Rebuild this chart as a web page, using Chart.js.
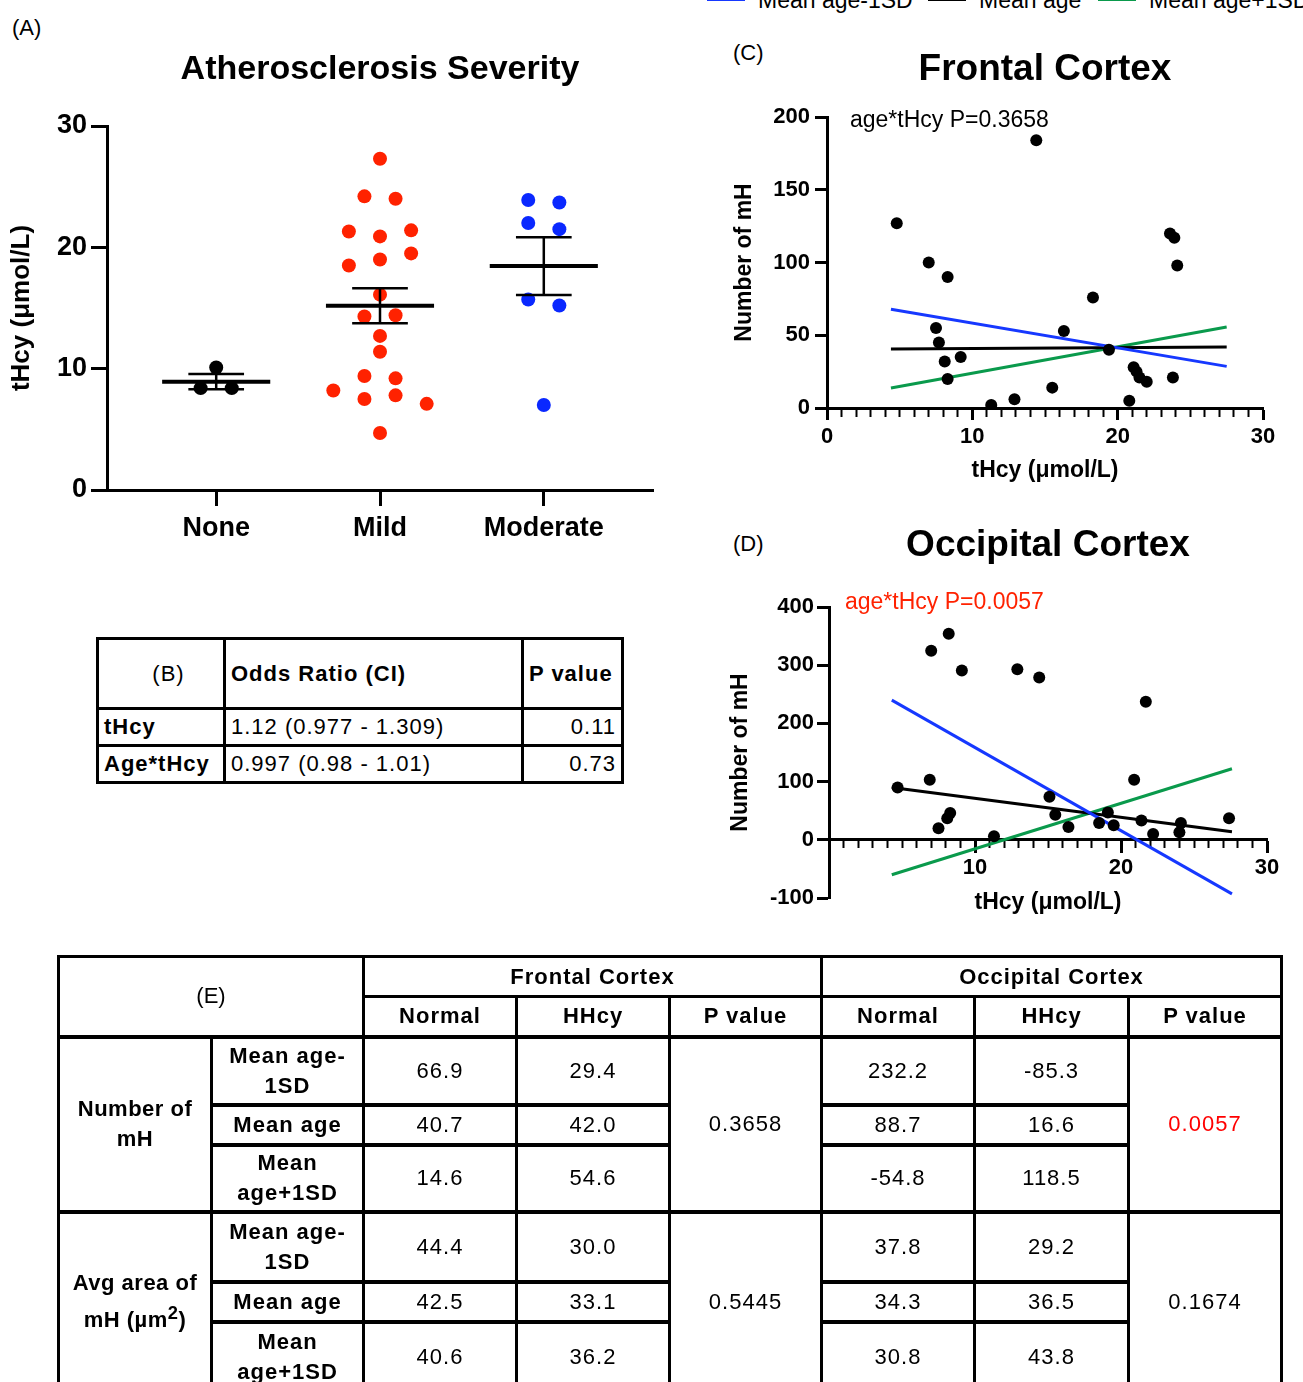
<!DOCTYPE html>
<html>
<head>
<meta charset="utf-8">
<script src="https://cdn.jsdelivr.net/npm/chart.js@4.4.1/dist/chart.umd.min.js"></script>
<style>
  body { margin: 0; background: #fff; font-family: "Liberation Sans", Arial, sans-serif; color: #000; }
  #page { position: relative; width: 1303px; height: 1382px; overflow: hidden; }
  canvas { position: absolute; }
  .tag { position: absolute; font-size: 22px; line-height: 25px; }
  .legend { position: absolute; top: -13px; font-size: 23px; line-height: 26px; white-space: nowrap; }
  .swatch { position: absolute; top: -3px; width: 38px; height: 4px; }
  table { position: absolute; border-collapse: collapse; table-layout: fixed; font-size: 22px; letter-spacing: 1px; }
  td { border: 3px solid #000; padding: 0; vertical-align: middle; line-height: 30px; }
  #tblB td { padding: 0 5px; }
  #tblE td { text-align: center; }
  .b { font-weight: bold; }
  .thick td { border-top-width: 4px; }
</style>
</head>
<body>
<div id="page">
  <div class="tag" style="left:12px; top:15px;">(A)</div>
  <div class="tag" style="left:733px; top:40px;">(C)</div>
  <div class="tag" style="left:733px; top:531px;">(D)</div>
  <div id="legend"></div>
  <canvas id="chartA" width="670" height="560" style="left:0; top:0;"></canvas>
  <canvas id="chartC" width="603" height="470" style="left:700px; top:30px;"></canvas>
  <canvas id="chartD" width="603" height="475" style="left:700px; top:500px;"></canvas>
  <table id="tblB" style="left:96px; top:637px;"></table>
  <table id="tblE" style="left:57px; top:955px;"></table>
</div>
<script>
const F = '"Liberation Sans", Arial, sans-serif';

// (A) tHcy by atherosclerosis severity
const groups = ['None', 'Mild', 'Moderate'];
const noneValues = [10.1, 8.4, 8.4];
const mildValues = [27.3, 24.2, 24.0, 21.3, 20.9, 21.4, 18.5, 19.0, 19.5, 16.1, 14.3, 14.4,
  12.7, 11.4, 9.4, 9.2, 8.2, 7.5, 7.8, 7.1, 4.7];
const moderateValues = [23.9, 23.7, 22.0, 21.5, 15.7, 15.2, 7.0];
const groupMeans = [8.93, 15.19, 18.46];
const groupSems = [0.63, 1.44, 2.38];

// (C) frontal cortex
const frontalThcy = [4.8, 7.0, 8.3, 14.4, 18.3, 23.6, 23.9, 24.1, 7.5, 7.7, 8.1, 9.2,
  8.3, 16.3, 19.4, 11.3, 12.9, 15.5, 21.1, 21.3, 21.5, 22.0, 20.8, 23.8];
const frontalCount = [127, 100, 90, 184, 76, 120, 117, 98, 55, 45, 32, 35,
  20, 53, 40, 2, 6, 14, 28, 25, 21, 18, 5, 21];
const frontalFitX = [4.4, 27.5];
const frontalLow = [67.8, 28.6];
const frontalMid = [40.5, 41.9];
const frontalHigh = [13.7, 55.7];

// (D) occipital cortex
const occipitalThcy = [4.7, 6.9, 7.0, 8.2, 9.1, 7.5, 8.1, 8.3, 11.3, 12.9, 14.4, 15.1,
  15.5, 16.4, 18.5, 19.1, 19.5, 20.9, 21.7, 21.4, 22.2, 24.1, 24.0, 27.4];
const occipitalCount = [90, 103, 325, 354, 291, 20, 37, 46, 6, 293, 279, 74,
  43, 22, 29, 47, 25, 103, 237, 33, 10, 29, 13, 37];
const occipitalFitX = [4.3, 27.6];
const occipitalLow = [240, -93];
const occipitalMid = [90, 14];
const occipitalHigh = [-60, 122];

const lineLabels = ['Mean age-1SD', 'Mean age', 'Mean age+1SD'];
const lineColors = ['#1638ff', '#000000', '#0a9a4c'];

// (B) odds ratios
const oddsHeader = ['(B)', 'Odds Ratio (CI)', 'P value'];
const oddsTerms = ['tHcy', 'Age*tHcy'];
const oddsRatios = ['1.12 (0.977 - 1.309)', '0.997 (0.98 - 1.01)'];
const oddsP = ['0.11', '0.73'];

// (E) predicted values
const regions = ['Frontal Cortex', 'Occipital Cortex'];
const subHeads = ['Normal', 'HHcy', 'P value'];
const measures = ['Number of<br>mH', 'Avg area of<br>mH (&micro;m<sup>2</sup>)'];
const ageLevels = ['Mean age-<br>1SD', 'Mean age', 'Mean<br>age+1SD'];
const frontalCountNormal = [66.9, 40.7, 14.6];
const frontalCountHHcy = [29.4, 42.0, 54.6];
const occipitalCountNormal = [232.2, 88.7, -54.8];
const occipitalCountHHcy = [-85.3, 16.6, 118.5];
const frontalAreaNormal = [44.4, 42.5, 40.6];
const frontalAreaHHcy = [30.0, 33.1, 36.2];
const occipitalAreaNormal = [37.8, 34.3, 30.8];
const occipitalAreaHHcy = [29.2, 36.5, 43.8];
const countP = [0.3658, 0.0057];
const areaP = [0.5445, 0.1674];

Chart.defaults.font.family = F;
Chart.defaults.color = '#000';
Chart.defaults.animation = false;
Chart.defaults.plugins.legend.display = false;
Chart.defaults.plugins.tooltip.enabled = false;

// spread dots of similar value side by side, like a column scatter
function swarm(values, pos) {
  const rows = [];
  values.forEach(v => {
    const row = rows[rows.length - 1];
    if (row && Math.abs(row[0] - v) <= 1.15) row.push(v);
    else rows.push([v]);
  });
  const pts = [];
  rows.forEach(row => row.forEach((v, i) => pts.push({ x: pos + (i - (row.length - 1) / 2) * 0.19, y: v })));
  return pts;
}

const meanSegments = groupMeans.flatMap((m, i) => [
  { x: i + 1 - 0.33, y: m }, { x: i + 1 + 0.33, y: m }, { x: i + 1, y: null }]);
const semSegments = groupMeans.flatMap((m, i) => {
  const c = i + 1, hi = m + groupSems[i], lo = m - groupSems[i];
  return [
    { x: c - 0.17, y: hi }, { x: c + 0.17, y: hi }, { x: c, y: null },
    { x: c, y: hi }, { x: c, y: lo }, { x: c, y: null },
    { x: c - 0.17, y: lo }, { x: c + 0.17, y: lo }, { x: c, y: null }];
});

const axisLine = { color: '#000', width: 3 };

new Chart(document.getElementById('chartA'), {
  type: 'scatter',
  data: {
    datasets: [
      { data: meanSegments, showLine: true, spanGaps: false, borderColor: '#000', borderWidth: 4, pointRadius: 0 },
      { data: semSegments, showLine: true, spanGaps: false, borderColor: '#000', borderWidth: 2.5, pointRadius: 0 },
      { data: swarm(noneValues, 1), backgroundColor: '#000', pointBorderWidth: 0, pointRadius: 7 },
      { data: swarm(mildValues, 2), backgroundColor: '#ff2200', pointBorderWidth: 0, pointRadius: 7 },
      { data: swarm(moderateValues, 3), backgroundColor: '#0a28ff', pointBorderWidth: 0, pointRadius: 7 }
    ]
  },
  options: {
    responsive: false,
    devicePixelRatio: 1,
    layout: { padding: { left: 0, right: 17, top: 0, bottom: 0 } },
    plugins: {
      title: {
        display: true, text: 'Atherosclerosis Severity', fullSize: false, color: '#000',
        font: { size: 34, weight: 'bold' }, padding: { top: 49.6, bottom: 35.6 }
      }
    },
    scales: {
      x: {
        type: 'linear', min: 1 / 3, max: 11 / 3,
        afterBuildTicks: s => { s.ticks = groups.map((g, i) => ({ value: i + 1 })); },
        afterFit: s => { s.height = 70; },
        grid: { drawOnChartArea: false, tickLength: 16, tickWidth: 3, tickColor: '#000' },
        border: axisLine,
        ticks: { callback: v => groups[v - 1], font: { size: 27, weight: 'bold' }, padding: 6, maxRotation: 0 }
      },
      y: {
        min: 0, max: 30,
        afterFit: s => { s.width = 107; },
        grid: { drawOnChartArea: false, tickLength: 16, tickWidth: 3, tickColor: '#000' },
        border: axisLine,
        ticks: { stepSize: 10, font: { size: 27, weight: 'bold' }, padding: 4 },
        title: { display: true, text: 'tHcy (μmol/L)', font: { size: 26, weight: 'bold' }, padding: { top: 6.4 } }
      }
    }
  }
});

const cornerText = {
  id: 'cornerText',
  afterDraw(chart, args, opts) {
    const { ctx, chartArea } = chart;
    ctx.save();
    ctx.font = '23px ' + F;
    ctx.fillStyle = opts.color;
    ctx.textBaseline = 'middle';
    ctx.fillText(opts.text, chartArea.left + opts.dx, chartArea.top + opts.dy);
    ctx.restore();
  }
};

function cortexChart(id, o) {
  const fits = [o.low, o.mid, o.high].map((ys, k) => ({
    data: o.fitX.map((x, i) => ({ x, y: ys[i] })),
    showLine: true, borderColor: lineColors[k], borderWidth: 3, pointRadius: 0
  }));
  return new Chart(document.getElementById(id), {
    type: 'scatter',
    data: {
      datasets: [
        { data: o.xs.map((x, i) => ({ x, y: o.ys[i] })), backgroundColor: '#000', pointBorderWidth: 0, pointRadius: 6 },
        ...fits
      ]
    },
    options: {
      responsive: false,
      devicePixelRatio: 1,
      layout: { padding: { left: 0, right: o.padRight, top: 0, bottom: o.padBottom } },
      plugins: {
        title: {
          display: true, text: o.title, fullSize: false, color: '#000',
          font: { size: 37, weight: 'bold' }, padding: o.titlePad
        },
        cornerText: o.note
      },
      scales: {
        x: {
          type: 'linear', min: 0, max: 30, position: o.xPos,
          afterFit: s => { s.height = o.xHeight; },
          grid: {
            drawOnChartArea: false, tickLength: 12, tickColor: '#000',
            tickWidth: c => (c.tick && c.tick.value % 10 === 0 ? 3 : 2),
            tickBorderDash: c => (c.tick && c.tick.value % 10 === 0 ? [] : [7, 30])
          },
          border: axisLine,
          ticks: {
            stepSize: 1, autoSkip: false, maxTicksLimit: 100, maxRotation: 0,
            callback: v => (v % 10 === 0 && !(o.hideZero && v === 0) ? v : ''),
            font: { size: 22, weight: 'bold' }, padding: o.xTickPad
          },
          title: { display: true, text: 'tHcy (μmol/L)', font: { size: 23, weight: 'bold' }, padding: { top: 0, bottom: o.xTitlePad } }
        },
        y: {
          min: o.yMin, max: o.yMax,
          afterFit: s => { s.width = o.yWidth; },
          grid: { drawOnChartArea: false, tickLength: 12, tickWidth: 3, tickColor: '#000' },
          border: axisLine,
          ticks: { stepSize: o.yStep, font: { size: 22, weight: 'bold' }, padding: o.yTickPad },
          title: { display: true, text: 'Number of mH', font: { size: 23, weight: 'bold' }, padding: { top: o.yTitlePad } }
        }
      }
    },
    plugins: [cornerText]
  });
}

cortexChart('chartC', {
  title: 'Frontal Cortex', xs: frontalThcy, ys: frontalCount,
  fitX: frontalFitX, low: frontalLow, mid: frontalMid, high: frontalHigh,
  yMin: 0, yMax: 200, yStep: 50, xPos: 'bottom', hideZero: false,
  padRight: 40, padBottom: 0, titlePad: { top: 17.8, bottom: 24.8 },
  xHeight: 92, xTickPad: 4, xTitlePad: 15.2, yWidth: 127, yTickPad: 5, yTitlePad: 31,
  note: { text: 'age*tHcy P=0.3658', color: '#000', dx: 23, dy: 4 }
});

cortexChart('chartD', {
  title: 'Occipital Cortex', xs: occipitalThcy, ys: occipitalCount,
  fitX: occipitalFitX, low: occipitalLow, mid: occipitalMid, high: occipitalHigh,
  yMin: -100, yMax: 400, yStep: 100, xPos: { y: 0 }, hideZero: true,
  padRight: 36, padBottom: 77, titlePad: { top: 23.8, bottom: 38.8 },
  xHeight: 77, xTickPad: 3, xTitlePad: 0, yWidth: 129, yTickPad: 3, yTitlePad: 27,
  note: { text: 'age*tHcy P=0.0057', color: '#ff2200', dx: 16, dy: -4 }
});

// shared legend, cut by the top edge as in the figure
const legendStarts = [707, 928, 1098];
document.getElementById('legend').innerHTML = lineLabels.map((t, i) =>
  `<div class="swatch" style="left:${legendStarts[i]}px; background:${lineColors[i]}"></div>` +
  `<div class="legend" style="left:${legendStarts[i] + 51}px">${t}</div>`).join('');

// table B
document.getElementById('tblB').innerHTML =
  `<colgroup><col style="width:127px"><col style="width:298px"><col style="width:100px"></colgroup>` +
  `<tr style="height:70px"><td style="text-align:center; padding-left:20px">${oddsHeader[0]}</td>` +
  `<td class="b">${oddsHeader[1]}</td><td class="b">${oddsHeader[2]}</td></tr>` +
  oddsTerms.map((t, i) => `<tr style="height:37px"><td class="b">${t}</td><td>${oddsRatios[i]}</td>` +
    `<td style="text-align:right">${oddsP[i]}</td></tr>`).join('');

// table E
const rowHeights = [68, 40, 67, 70, 40, 70];
const blocks = [
  { name: measures[0], cols: [frontalCountNormal, frontalCountHHcy, occipitalCountNormal, occipitalCountHHcy], p: countP },
  { name: measures[1], cols: [frontalAreaNormal, frontalAreaHHcy, occipitalAreaNormal, occipitalAreaHHcy], p: areaP }
];
let e = '<colgroup>' + [153, 152, 153, 153, 152, 153, 154, 153].map(w => `<col style="width:${w}px">`).join('') + '</colgroup>';
e += `<tr style="height:40px"><td colspan="2" rowspan="2" style="letter-spacing:0">(E)</td>` +
  regions.map(r => `<td colspan="3" class="b">${r}</td>`).join('') + '</tr>';
e += '<tr style="height:40px">' + regions.map(() => subHeads.map(h => `<td class="b">${h}</td>`).join('')).join('') + '</tr>';
blocks.forEach((blk, b) => {
  ageLevels.forEach((lvl, r) => {
    e += `<tr class="thick" style="height:${rowHeights[b * 3 + r]}px">`;
    if (r === 0) e += `<td rowspan="3" class="b" style="letter-spacing:0.5px">${blk.name}</td>`;
    e += `<td class="b">${lvl}</td>`;
    e += `<td>${blk.cols[0][r].toFixed(1)}</td><td>${blk.cols[1][r].toFixed(1)}</td>`;
    if (r === 0) e += `<td rowspan="3">${blk.p[0].toFixed(4)}</td>`;
    e += `<td>${blk.cols[2][r].toFixed(1)}</td><td>${blk.cols[3][r].toFixed(1)}</td>`;
    if (r === 0) e += `<td rowspan="3" style="color:${blk.p[1] < 0.05 ? '#ff0000' : '#000'}">${blk.p[1].toFixed(4)}</td>`;
    e += '</tr>';
  });
});
document.getElementById('tblE').innerHTML = e;
</script>
</body>
</html>
